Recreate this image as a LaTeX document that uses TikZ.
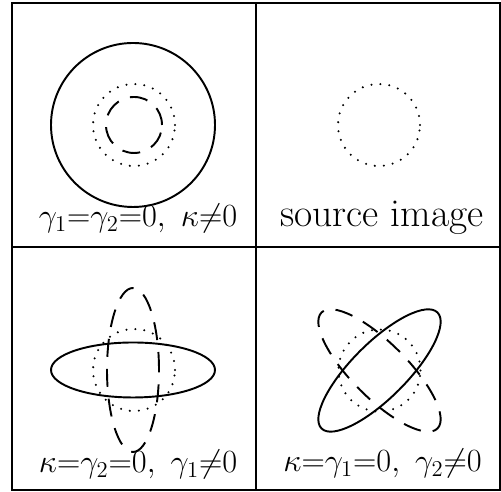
\documentclass[tikz,border=0pt]{standalone}
\usepackage{fix-cm}
\usepackage{amsmath,amssymb}

\begin{document}
\begin{tikzpicture}[x=0.2mm, y=0.2mm, every node/.style={font=\fontsize{18.4}{22}\selectfont}, lbl/.style={anchor=base, inner sep=0pt}, txtlbl/.style={lbl, font=\fontsize{22.5}{26}\selectfont}, curve/.style={line width=1.1pt}, dashcurve/.style={curve, dash pattern=on 3.6mm off 2.4mm}, dotcurve/.style={line width=1.3pt, line cap=round, dash pattern=on 0pt off 1.8mm}]
	\useasboundingbox (0,0) rectangle (501,492);
	\draw[line width=0.8pt] (12,2) rectangle (500,489);
	\draw[line width=0.8pt] (256,2) -- (256,489);
	\draw[line width=0.8pt] (12,245) -- (500,245);
	\begin{scope}[shift={(133,367)}]
		\draw[curve] (0,0) circle[radius=82];
		\draw[dotcurve] (1,0) circle[radius=41];
		\draw[dashcurve] (1,0) circle[radius=28];
		\node[lbl] (labA) at (5,-102) {$\gamma_1{=}\gamma_2{=}0,\ \kappa{\neq}0$};
	\end{scope}
	\begin{scope}[shift={(379,367)}]
		\draw[dotcurve] (0,0) circle[radius=41];
		\node[txtlbl] (labB) at (3,-102) {source image};
	\end{scope}
	\begin{scope}[shift={(133,122)}]
		\draw[curve] (0,0) ellipse[x radius=82, y radius=27.5];
		\draw[dotcurve] (1,0) circle[radius=41];
		\draw[dashcurve] (0,0) ellipse[x radius=26, y radius=82];
		\node[lbl] (labC) at (5,-103) {$\kappa{=}\gamma_2{=}0,\ \gamma_1{\neq}0$};
	\end{scope}
	\begin{scope}[shift={(379.5,121.5)}]
		\draw[curve, rotate=45] (0,0) ellipse[x radius=82, y radius=27.5];
		\draw[dotcurve] (0,0) circle[radius=41];
		\draw[dashcurve, rotate=-45] (0,0) ellipse[x radius=82, y radius=27.5];
		\node[lbl] (labD) at (3,-101.5) {$\kappa{=}\gamma_1{=}0,\ \gamma_2{\neq}0$};
	\end{scope}
\end{tikzpicture}
\end{document}
